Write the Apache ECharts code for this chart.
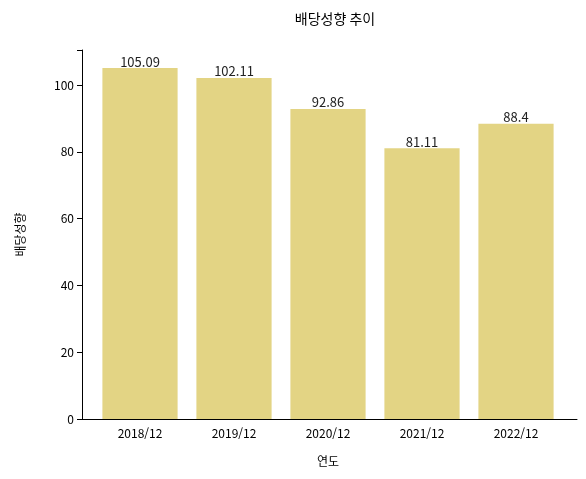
<!DOCTYPE html>
<html lang="ko">
  <head>
    <meta charset="UTF-8" />
    <title>배당성향 추이</title>
    <script src="https://cdn.jsdelivr.net/npm/echarts@6/dist/echarts.min.js"></script>
    <style>
      html, body { margin: 0; padding: 0; background: #fff; }
      #chart { width: 586px; height: 479px; }
    </style>
  </head>
  <body>
    <div id="chart"></div>
    <script>
      const years = ["2018/12", "2019/12", "2020/12", "2021/12", "2022/12"];
      const payout = [105.09, 102.11, 92.86, 81.11, 88.4];
      const labels = ["105.09", "102.11", "92.86", "81.11", "88.4"];

      const font = "Noto Sans CJK KR";
      const myChart = echarts.init(document.getElementById("chart"));
      const option = {
        textStyle: { fontFamily: font },
        title: {
          text: "배당성향 추이",
          left: 330,
          textAlign: "center",
          top: 7,
          textStyle: { fontFamily: font, fontSize: 14, fontWeight: "normal", color: "#000" },
        },
        // grid 0: bars (inset like matplotlib margins), grid 1: frame axes
        grid: [
          { left: 93, right: 23, top: 50, bottom: 60 },
          { left: 82, right: 9, top: 50, bottom: 60 },
        ],
        xAxis: [
          {
            type: "category",
            gridIndex: 0,
            data: years,
            name: "연도",
            nameLocation: "middle",
            nameGap: 36,
            nameTextStyle: { color: "#000", fontSize: 12 },
            axisLine: { show: false },
            axisTick: { alignWithLabel: true, lineStyle: { color: "#000" } },
            axisLabel: { color: "#000", fontSize: 12 },
          },
          {
            type: "value",
            gridIndex: 1,
            axisLine: { show: true, lineStyle: { color: "#000" } },
            axisTick: { show: false },
            axisLabel: { show: false },
            splitLine: { show: false },
          },
        ],
        yAxis: [
          {
            type: "value",
            gridIndex: 0,
            min: 0,
            max: 110.5,
            show: false,
          },
          {
            type: "value",
            gridIndex: 1,
            min: 0,
            max: 110.5,
            interval: 20,
            name: "배당성향",
            nameLocation: "middle",
            nameGap: 56,
            nameTextStyle: { color: "#000", fontSize: 12 },
            axisLine: { show: true, lineStyle: { color: "#000" } },
            axisTick: { show: true, lineStyle: { color: "#000" } },
            axisLabel: {
              color: "#000",
              fontSize: 12,
              formatter: (v) => (v % 20 === 0 ? v : ""),
            },
            splitLine: { show: false },
          },
        ],
        series: [
          {
            type: "bar",
            xAxisIndex: 0,
            yAxisIndex: 0,
            data: payout,
            barWidth: "80%",
            itemStyle: { color: "#e3d484" },
            label: {
              show: true,
              position: "top",
              distance: 0,
              color: "#222",
              fontSize: 13,
              formatter: (p) => labels[p.dataIndex],
            },
          },
        ],
      };
      myChart.setOption(option);
    </script>
  </body>
</html>
